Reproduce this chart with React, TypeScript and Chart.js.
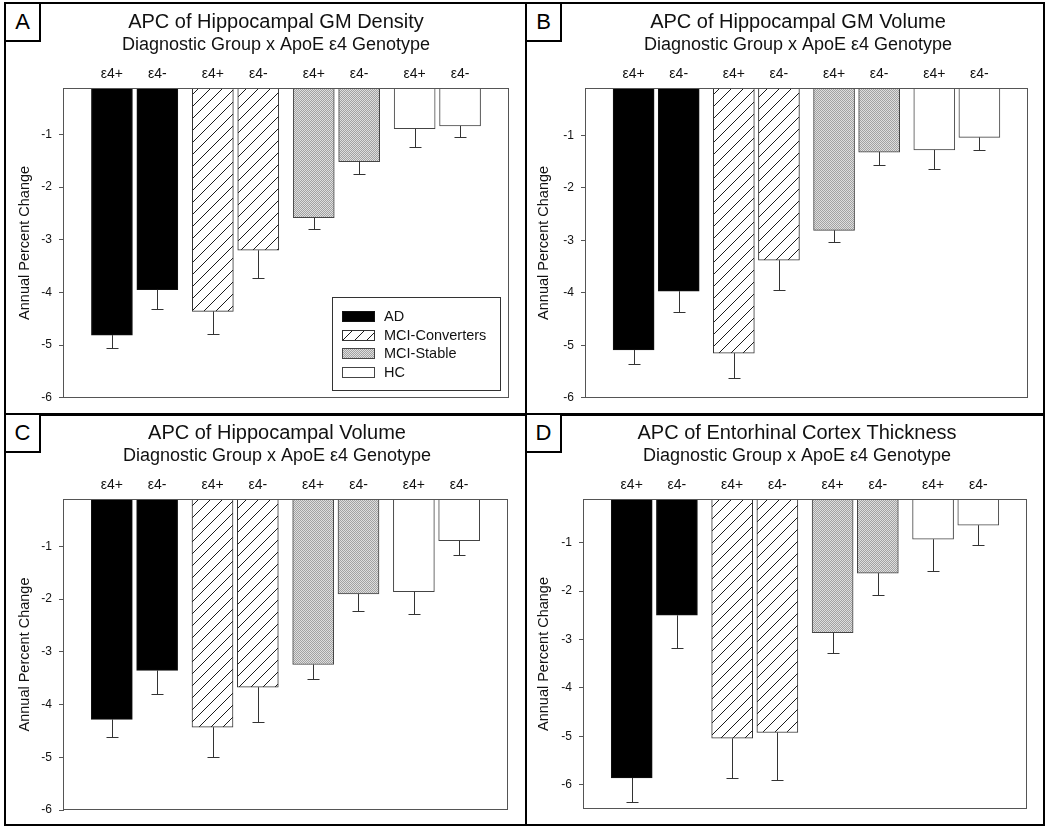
import React, { useEffect, useRef } from 'react';
import { Chart, registerables } from 'chart.js';

Chart.register(...registerables);

// ---------- data ----------
const GROUPS = ['AD', 'MCI-Converters', 'MCI-Stable', 'HC'];
const GENOTYPES = ['ε4+', 'ε4-'];
const Y_TICKS = [-1, -2, -3, -4, -5, -6];
const SUBTITLE = 'Diagnostic Group x ApoE ε4 Genotype';
const Y_TITLE = 'Annual Percent Change';
const PANEL_LABELS = ['A', 'B', 'C', 'D'];
const TITLES = [
  'APC of Hippocampal GM Density',
  'APC of Hippocampal GM Volume',
  'APC of Hippocampal Volume',
  'APC of Entorhinal Cortex Thickness',
];

// order: AD e4+, AD e4-, MCI-C e4+, MCI-C e4-, MCI-S e4+, MCI-S e4-, HC e4+, HC e4-
const GM_DENSITY_VALUES = [-4.81, -3.95, -4.36, -3.2, -2.58, -1.52, -0.89, -0.84];
const GM_DENSITY_ERRORS = [0.25, 0.36, 0.43, 0.52, 0.21, 0.24, 0.35, 0.21];

const GM_VOLUME_VALUES = [-5.09, -3.97, -5.15, -3.38, -2.81, -1.32, -1.28, -1.04];
const GM_VOLUME_ERRORS = [0.27, 0.39, 0.47, 0.56, 0.22, 0.25, 0.37, 0.24];

const HIPPO_VOLUME_VALUES = [-4.28, -3.35, -4.43, -3.67, -3.24, -1.9, -1.86, -0.89];
const HIPPO_VOLUME_ERRORS = [0.34, 0.45, 0.56, 0.66, 0.27, 0.32, 0.43, 0.28];

const ERC_THICKNESS_VALUES = [-5.86, -2.5, -5.04, -4.92, -2.86, -1.63, -0.93, -0.64];
const ERC_THICKNESS_ERRORS = [0.49, 0.67, 0.83, 0.99, 0.41, 0.46, 0.66, 0.41];

// ---------- styling ----------
const FONT = "'Liberation Sans', Arial, Helvetica, sans-serif";
const TEXT = '#111';
const AXIS = '#555';

Chart.defaults.font.family = FONT;
Chart.defaults.color = TEXT;

function hatchPattern(ctx: CanvasRenderingContext2D): CanvasPattern | string {
  const s = 12;
  const c = document.createElement('canvas');
  c.width = s;
  c.height = s;
  const g = c.getContext('2d');
  if (!g) return '#fff';
  g.fillStyle = '#fff';
  g.fillRect(0, 0, s, s);
  g.strokeStyle = '#1a1a1a';
  g.lineWidth = 1;
  g.beginPath();
  g.moveTo(0, s);
  g.lineTo(s, 0);
  g.moveTo(-1, 1);
  g.lineTo(1, -1);
  g.moveTo(s - 1, s + 1);
  g.lineTo(s + 1, s - 1);
  g.stroke();
  return ctx.createPattern(c, 'repeat') || '#fff';
}

function stipplePattern(ctx: CanvasRenderingContext2D): CanvasPattern | string {
  const c = document.createElement('canvas');
  c.width = 2;
  c.height = 2;
  const g = c.getContext('2d');
  if (!g) return '#bbb';
  g.fillStyle = '#dedede';
  g.fillRect(0, 0, 2, 2);
  g.fillStyle = '#a2a2a2';
  g.fillRect(0, 0, 1, 1);
  g.fillRect(1, 1, 1, 1);
  return ctx.createPattern(c, 'repeat') || '#bbb';
}

function makeFills(ctx: CanvasRenderingContext2D) {
  return ['#000', hatchPattern(ctx), stipplePattern(ctx), '#fff'];
}
const BORDERS = ['#111', '#333', '#444', '#444'];

type PanelCfg = {
  idx: number;
  values: number[];
  errors: number[];
  yMin: number;
  yMax: number;
  left: number;
  top: number;
  width: number;
  height: number;
  axisLeft: number;
  axisRight: number;
  padBottom: number;
  yTitlePad: number;
  legend: boolean;
};

const PANELS: PanelCfg[] = [
  { idx: 0, values: GM_DENSITY_VALUES, errors: GM_DENSITY_ERRORS, yMin: -6, yMax: -0.12,
    left: 6, top: 5, width: 540, height: 407, axisLeft: 58, axisRight: 38, padBottom: 13, yTitlePad: 10, legend: true },
  { idx: 1, values: GM_VOLUME_VALUES, errors: GM_VOLUME_ERRORS, yMin: -6, yMax: -0.1,
    left: 527, top: 5, width: 542, height: 407, axisLeft: 59, axisRight: 42, padBottom: 13, yTitlePad: 8, legend: false },
  { idx: 2, values: HIPPO_VOLUME_VALUES, errors: HIPPO_VOLUME_ERRORS, yMin: -6, yMax: -0.1,
    left: 6, top: 416, width: 542, height: 410, axisLeft: 58, axisRight: 41, padBottom: 16, yTitlePad: 10, legend: false },
  { idx: 3, values: ERC_THICKNESS_VALUES, errors: ERC_THICKNESS_ERRORS, yMin: -6.5, yMax: -0.1,
    left: 527, top: 416, width: 540, height: 410, axisLeft: 57, axisRight: 41, padBottom: 17, yTitlePad: 8, legend: false },
];

const GROUP_OFFSET = 0.225;

const frameAndErrors = {
  id: 'frameAndErrors',
  afterDatasetsDraw(chart: any) {
    const { ctx, chartArea } = chart;
    const ds = chart.data.datasets[0];
    const meta = chart.getDatasetMeta(0);
    const yScale = chart.scales.y;
    ctx.save();
    // plot frame
    ctx.strokeStyle = AXIS;
    ctx.lineWidth = 1;
    ctx.strokeRect(
      Math.round(chartArea.left) - 0.5,
      Math.round(chartArea.top) + 0.5,
      Math.round(chartArea.right) - Math.round(chartArea.left) + 1,
      Math.round(chartArea.bottom) - Math.round(chartArea.top) - 1
    );
    // error bars (downward)
    ctx.strokeStyle = '#333';
    meta.data.forEach((bar: any, i: number) => {
      const v = ds.data[i].y;
      const e = ds.errors[i];
      const x = Math.round(bar.x) + 0.5;
      const y1 = bar.y;
      const y2 = Math.round(yScale.getPixelForValue(v - e)) + 0.5;
      ctx.beginPath();
      ctx.moveTo(x, y1);
      ctx.lineTo(x, y2);
      ctx.moveTo(x - 6, y2);
      ctx.lineTo(x + 6, y2);
      ctx.stroke();
    });
    ctx.restore();
  },
};

const legendBox = {
  id: 'legendBox',
  afterDraw(chart: any) {
    const opts = chart.options.plugins.legendBox;
    if (!opts || !opts.show) return;
    const { ctx, chartArea } = chart;
    const fills = opts.fills;
    const w = 168;
    const h = 93;
    const x0 = Math.round(chartArea.right - 8 - w);
    const y0 = Math.round(chartArea.bottom - 8 - h);
    ctx.save();
    ctx.fillStyle = '#fff';
    ctx.fillRect(x0, y0, w, h);
    ctx.strokeStyle = '#333';
    ctx.lineWidth = 1;
    ctx.strokeRect(x0 + 0.5, y0 + 0.5, w, h);
    ctx.font = `14.5px ${FONT}`;
    ctx.textBaseline = 'middle';
    ctx.textAlign = 'left';
    GROUPS.forEach((g, i) => {
      const cy = Math.round(y0 + 19 + i * 18.5);
      ctx.fillStyle = fills[i];
      ctx.fillRect(x0 + 10, cy - 5, 33, 11);
      ctx.strokeStyle = BORDERS[i];
      ctx.strokeRect(x0 + 10.5, cy - 4.5, 32, 10);
      ctx.fillStyle = TEXT;
      ctx.fillText(g, x0 + 52, cy + 1);
    });
    ctx.restore();
  },
};

function Panel({ cfg }: { cfg: PanelCfg }) {
  const ref = useRef<HTMLCanvasElement>(null);
  useEffect(() => {
    const canvas = ref.current;
    if (!canvas) return;
    const ctx = canvas.getContext('2d') as CanvasRenderingContext2D;
    const fills = makeFills(ctx);
    const xs = cfg.values.map((_, i) => Math.floor(i / 2) + 1 + (i % 2 === 0 ? -GROUP_OFFSET : GROUP_OFFSET));
    const chart = new Chart(canvas, {
      type: 'bar',
      data: {
        datasets: [
          {
            data: cfg.values.map((v, i) => ({ x: xs[i], y: v })),
            backgroundColor: cfg.values.map((_, i) => fills[Math.floor(i / 2)]),
            borderColor: cfg.values.map((_, i) => BORDERS[Math.floor(i / 2)]),
            borderWidth: 1,
            borderSkipped: 'start',
            barThickness: 41,
            errors: cfg.errors,
          } as any,
        ],
      },
      options: {
        responsive: false,
        animation: false,
        events: [],
        layout: { padding: { top: 0, bottom: cfg.padBottom, left: 0, right: 0 } },
        plugins: {
          legend: { display: false },
          tooltip: { enabled: false },
          title: {
            display: true,
            text: TITLES[cfg.idx],
            color: TEXT,
            font: { family: FONT, size: 20, weight: 'normal' },
            padding: { top: 5, bottom: 0 },
          },
          subtitle: {
            display: true,
            text: SUBTITLE,
            color: TEXT,
            font: { family: FONT, size: 18, weight: 'normal' },
            padding: { top: 0, bottom: 0 },
          },
          legendBox: { show: cfg.legend, fills },
        } as any,
        scales: {
          x: {
            type: 'linear',
            position: 'top',
            offset: false,
            min: 0.3,
            max: 4.7,
            grid: { display: false, drawTicks: false, offset: false },
            border: { display: false },
            afterBuildTicks: (s: any) => {
              s.ticks = xs.map((v) => ({ value: v }));
            },
            ticks: {
              autoSkip: false,
              maxRotation: 0,
              padding: 5,
              color: TEXT,
              font: { family: FONT, size: 14 },
              callback: (_v: any, i: number) => GENOTYPES[i % 2],
            },
            afterFit: (s: any) => {
              s.height = 32.4;
            },
          },
          y: {
            type: 'linear',
            position: 'left',
            min: cfg.yMin,
            max: cfg.yMax,
            afterBuildTicks: (s: any) => {
              s.ticks = Y_TICKS.map((v) => ({ value: v }));
            },
            ticks: {
              padding: 7,
              color: TEXT,
              font: { family: FONT, size: 12 },
              callback: (v: any) => String(v),
            },
            grid: { drawOnChartArea: false, drawTicks: true, tickLength: 5, color: AXIS },
            border: { display: false },
            title: {
              display: true,
              text: Y_TITLE,
              color: TEXT,
              font: { family: FONT, size: 14.5 },
              padding: { top: cfg.yTitlePad, bottom: 0 },
            },
            afterFit: (s: any) => {
              s.width = cfg.axisLeft;
            },
          },
          yR: {
            type: 'linear',
            position: 'right',
            display: true,
            grid: { display: false },
            border: { display: false },
            ticks: { display: false },
            afterFit: (s: any) => {
              s.width = cfg.axisRight;
            },
          },
        } as any,
      },
      plugins: [frameAndErrors, legendBox],
    });
    return () => chart.destroy();
  }, [cfg]);
  return (
    <canvas
      ref={ref}
      width={cfg.width}
      height={cfg.height}
      style={{ position: 'absolute', left: cfg.left, top: cfg.top, width: cfg.width, height: cfg.height }}
    />
  );
}

const LABEL_BOXES = [
  { left: 4, top: 2, width: 37, height: 40 },
  { left: 525, top: 2, width: 37, height: 40 },
  { left: 4, top: 413, width: 37, height: 40 },
  { left: 525, top: 413, width: 37, height: 40 },
];

export default function App() {
  return (
    <div
      style={{
        position: 'fixed',
        left: 0,
        top: 0,
        width: 1050,
        height: 829,
        overflow: 'hidden',
        background: '#fff',
        fontFamily: FONT,
      }}
    >
      {PANELS.map((p) => (
        <Panel key={p.idx} cfg={p} />
      ))}
      {/* outer frame */}
      <div
        style={{
          position: 'absolute',
          left: 4,
          top: 2,
          width: 1041,
          height: 824,
          border: '2px solid #000',
          boxSizing: 'border-box',
          pointerEvents: 'none',
        }}
      />
      {/* dividers */}
      <div style={{ position: 'absolute', left: 525, top: 2, width: 2, height: 824, background: '#000' }} />
      <div style={{ position: 'absolute', left: 4, top: 413, width: 1041, height: 3, background: '#000' }} />
      {LABEL_BOXES.map((b, i) => (
        <div
          key={i}
          style={{
            position: 'absolute',
            left: b.left,
            top: b.top,
            width: b.width,
            height: b.height,
            border: '2px solid #000',
            boxSizing: 'border-box',
            background: '#fff',
            display: 'flex',
            alignItems: 'center',
            justifyContent: 'center',
            fontSize: 22,
            color: '#000',
            lineHeight: 1,
          }}
        >
          {PANEL_LABELS[i]}
        </div>
      ))}
    </div>
  );
}
